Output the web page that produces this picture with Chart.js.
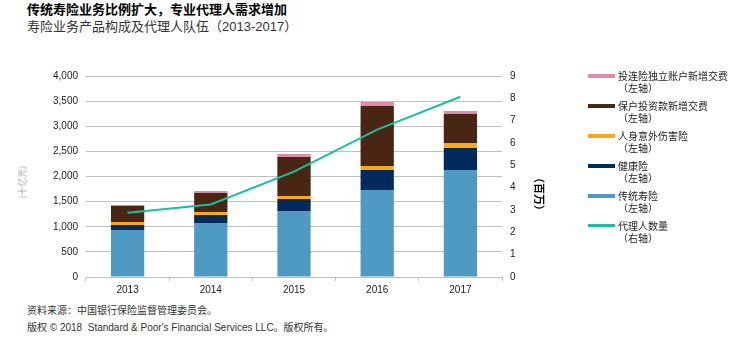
<!DOCTYPE html>
<html>
<head>
<meta charset="utf-8">
<script src="https://cdn.jsdelivr.net/npm/chart.js@4/dist/chart.umd.min.js"></script>
<style>
  body { margin: 0; width: 751px; height: 342px; background: #fff; position: relative; overflow: hidden;
         font-family: "Liberation Sans", "Noto Sans CJK SC", sans-serif; color: #222; }
  .title { position: absolute; left: 27px; top: 1px; font: bold 13px/16px "Noto Sans CJK SC", sans-serif; color: #000; }
  .subtitle { position: absolute; left: 27px; top: 19px; font: 13px/16px "Liberation Sans", "Noto Sans CJK SC", sans-serif; color: #333; }
  #wrap { position: absolute; left: 0; top: 60px; width: 580px; height: 240px; }
  .axis-title { position: absolute; white-space: nowrap; font-family: "Noto Sans CJK SC", sans-serif; }
  #legend { position: absolute; left: 588px; top: 70px; }
  .item { display: flex; align-items: flex-start; height: 24px; margin-bottom: 6px; }
  .swatch { width: 27px; margin-top: 4px; margin-right: 3px; }
  .label { font: 10px/12px "Noto Sans CJK SC", sans-serif; color: #222; white-space: nowrap; }
  .foot { position: absolute; left: 27px; font: 10px/12px "Liberation Sans", "Noto Sans CJK SC", sans-serif; color: #333; }
</style>
</head>
<body>
<div class="title">传统寿险业务比例扩大，专业代理人需求增加</div>
<div class="subtitle">寿险业务产品构成及代理人队伍（2013-2017）</div>

<div id="wrap"><canvas id="chart" width="580" height="240"></canvas></div>
<div class="axis-title" style="left:22px; top:182px; font-size:9px; color:#a0a0a0; transform:translate(-50%,-50%) rotate(-90deg);">(十亿元)</div>
<div class="axis-title" style="left:540px; top:194px; font-size:11px; font-weight:bold; color:#000; transform:translate(-50%,-50%) rotate(90deg);">（百万）</div>

<div id="legend"></div>

<div class="foot" style="top:305px;">资料来源：中国银行保险监督管理委员会。</div>
<div class="foot" style="top:322px;">版权 © 2018&nbsp; Standard &amp; Poor's Financial Services LLC。版权所有。</div>

<script>
// years on the x axis
const years = ['2013', '2014', '2015', '2016', '2017'];

// premium income, billion yuan (left axis), stacked bottom to top
const traditionalLife = [935, 1075, 1313, 1731, 2129];
const health          = [100, 160, 240, 400, 438];
const accident        = [60, 60, 60, 78, 100];
const investDeposits  = [318, 378, 776, 1194, 577];
const unitLinked      = [20, 39, 60, 80, 59];

// number of agents, millions (right axis)
const agents = [2.88, 3.25, 4.72, 6.6, 8.07];

const leftTicks  = { min: 0, max: 4000, step: 500 };
const rightTicks = { min: 0, max: 9, step: 1 };

const tickFont = { family: '"Liberation Sans", Arial, sans-serif', size: 10 };
const gridColor = '#c0c0c0';

const bar = (label, data, color) => ({
  type: 'bar', label, data, backgroundColor: color, yAxisID: 'y',
  order: 1, barPercentage: 0.4, categoryPercentage: 1, note: '（左轴）'
});

const datasets = [
  bar('传统寿险', traditionalLife, '#4f9ac3'),
  bar('健康险', health, '#002a5c'),
  bar('人身意外伤害险', accident, '#f7a81b'),
  bar('保户投资款新增交费', investDeposits, '#482613'),
  bar('投连险独立账户新增交费', unitLinked, '#de8ca8'),
  {
    type: 'line', label: '代理人数量', data: agents, yAxisID: 'y1', order: 0,
    borderColor: '#19bf9f', borderWidth: 2, pointRadius: 0, tension: 0, note: '（右轴）'
  }
];

new Chart(document.getElementById('chart'), {
  data: { labels: years, datasets },
  options: {
    responsive: false,
    animation: false,
    layout: { padding: { top: 16, right: 0, bottom: 0, left: 0 } },
    plugins: { legend: { display: false }, tooltip: { enabled: false } },
    scales: {
      x: {
        stacked: true,
        grid: { offset: true, drawOnChartArea: false, drawTicks: true, tickLength: 4, color: gridColor },
        border: { color: gridColor },
        ticks: { color: '#222', font: tickFont, padding: 3 },
        afterFit: s => { s.height = 23; }
      },
      y: {
        stacked: true, position: 'left',
        min: leftTicks.min, max: leftTicks.max,
        grid: { color: gridColor, drawTicks: false },
        border: { display: false },
        ticks: {
          stepSize: leftTicks.step, padding: 8, color: '#222', font: tickFont,
          callback: v => v.toLocaleString('en-US')
        },
        afterFit: s => { s.width = 86; }
      },
      y1: {
        position: 'right',
        min: rightTicks.min, max: rightTicks.max,
        grid: { drawOnChartArea: false, drawTicks: false },
        border: { display: false },
        ticks: { stepSize: rightTicks.step, padding: 8, color: '#222', font: tickFont },
        afterFit: s => { s.width = 78; }
      }
    }
  }
});

// legend, top entry is the top of the stack, line last
const legendOrder = [4, 3, 2, 1, 0, 5];
const legend = document.getElementById('legend');
legendOrder.forEach(i => {
  const ds = datasets[i];
  const color = ds.type === 'line' ? ds.borderColor : ds.backgroundColor;
  const h = ds.type === 'line' ? 3 : 4;
  legend.insertAdjacentHTML('beforeend',
    `<div class="item"><span class="swatch" style="height:${h}px;background:${color}"></span>` +
    `<span class="label">${ds.label}<br>${ds.note}</span></div>`);
});
</script>
</body>
</html>
